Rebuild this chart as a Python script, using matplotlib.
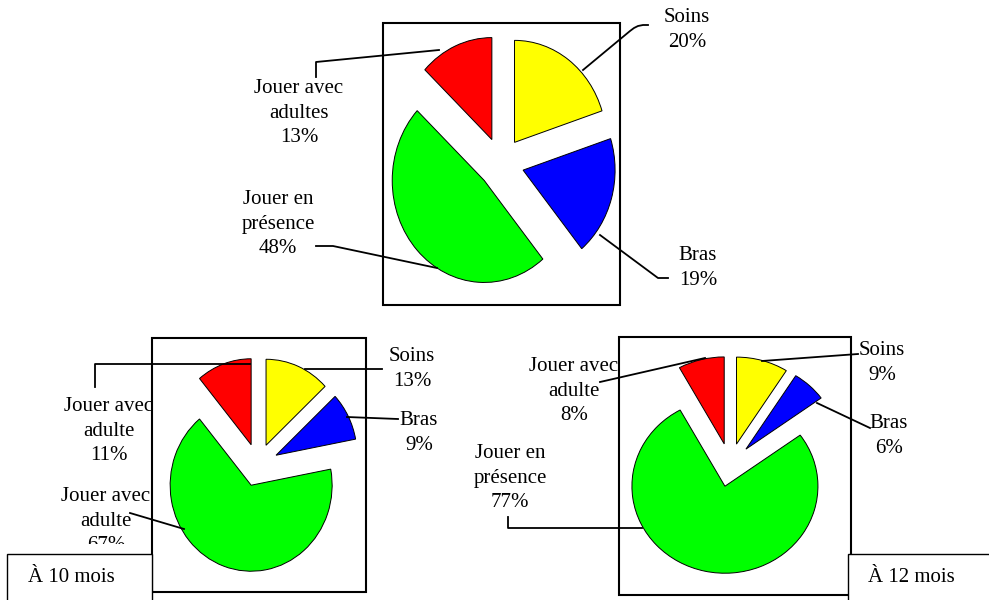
import matplotlib
matplotlib.use('Agg')
import matplotlib.pyplot as plt
from matplotlib.patches import Rectangle

# data
names_top = ["Soins", "Bras", "Jouer en\nprésence", "Jouer avec\nadultes"]
pct_top = [20, 19, 48, 13]
names_10 = ["Soins", "Bras", "Jouer avec\nadulte", "Jouer avec\nadulte"]
pct_10 = [13, 9, 67, 11]
names_12 = ["Soins", "Bras", "Jouer en\nprésence", "Jouer avec\nadulte"]
pct_12 = [9, 6, 77, 8]
titles = ["À 10 mois", "À 12 mois"]
colors = ["#FFFF00", "#0000FF", "#00FF00", "#FF0000"]

W, H = 989, 600
plt.rcParams['font.family'] = ['Liberation Serif', 'DejaVu Serif']
fig = plt.figure(figsize=(W / 100, H / 100), dpi=100)


def pie_at(vals, cx, cy, rx, ry):
    # axes placed in pixel terms so that radius 1 -> rx / ry pixels
    ax = fig.add_axes([(cx - 1.5 * rx) / W, 1 - (cy + 1.5 * ry) / H, 3 * rx / W, 3 * ry / H])
    ax.pie(vals, colors=colors, explode=[0.25] * len(vals), startangle=90, counterclock=False,
           wedgeprops=dict(edgecolor='black', linewidth=0.7))
    ax.set_aspect('auto')
    ax.set_xlim(-1.5, 1.5)
    ax.set_ylim(-1.5, 1.5)
    ax.axis('off')
    return ax


pie_at(pct_top, 501, 163, 92, 102)
pie_at(pct_10, 258, 465, 81, 86)
pie_at(pct_12, 730, 465, 93, 87)

ov = fig.add_axes([0, 0, 1, 1])
ov.set_xlim(0, W)
ov.set_ylim(H, 0)
ov.axis('off')

# label positions (layout), in slice order
pos_top = [(687, 30), (698, 268), (278, 224), (299, 113)]
pos_10 = [(412, 369), (419, 433), (106, 521), (109, 431)]
pos_12 = [(882, 363), (889, 436), (510, 478), (574, 391)]

for names, pcts, pos in [(names_top, pct_top, pos_top), (names_10, pct_10, pos_10), (names_12, pct_12, pos_12)]:
    for n, p, (x, y) in zip(names, pcts, pos):
        ov.text(x, y, f"{n}\n{p}%", ha='center', va='center', multialignment='center',
                fontsize=15, linespacing=1.4, zorder=2)

# leader lines
leaders = [
    [(583, 70), (630, 31), (634, 28), (638, 26), (643, 25), (648, 25)],
    [(600, 235), (658, 278), (668, 278)],
    [(316, 246), (333, 246), (437, 268)],
    [(316, 77), (316, 62), (439, 50)],
    [(305, 369), (382, 369)],
    [(347, 417), (398, 419)],
    [(130, 513), (184, 529)],
    [(95, 387), (95, 364), (250, 364)],
    [(762, 361), (858, 354)],
    [(817, 403), (870, 428)],
    [(508, 517), (508, 528), (642, 528)],
    [(600, 382), (705, 358)],
]
for pts in leaders:
    xs, ys = zip(*pts)
    ov.plot(xs, ys, color='black', lw=1.3, zorder=3)

# frames around pies
for (x0, y0, x1, y1) in [(383, 23, 620, 305), (152, 338, 366, 592), (619, 337, 851, 595)]:
    ov.add_patch(Rectangle((x0, y0), x1 - x0, y1 - y0, fill=False, ec='black', lw=1.5, zorder=3))

# the last label line is cut off in the original
ov.add_patch(Rectangle((40, 544), 110, 10, fc='white', ec='none', zorder=4))

# title boxes
ov.add_patch(Rectangle((7, 554), 145, 60, fc='white', ec='black', lw=1.0, zorder=4))
ov.text(28, 578, titles[0], ha='left', va='center', fontsize=15, zorder=5)
ov.add_patch(Rectangle((848, 554), 160, 60, fc='white', ec='black', lw=1.0, zorder=4))
ov.text(868, 578, titles[1], ha='left', va='center', fontsize=15, zorder=5)

fig.savefig("out.png", dpi=100)
